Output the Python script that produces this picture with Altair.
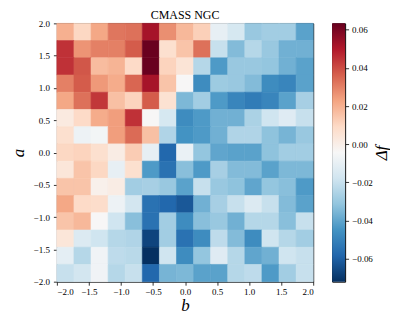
import altair as alt
import numpy as np
import pandas as pd

# Bin edges of the 15 x 15 grid
b_edges = np.linspace(-2.0, 2.0, 16)
a_edges = np.linspace(2.0, -2.0, 16)  # rows listed from top (a = 2) to bottom (a = -2)

# Delta f values, one list per row (top row first), columns from b = -2 to b = 2
delta_f_rows = [
    [0.020, 0.010, 0.022, 0.032, 0.033, 0.052, 0.027, 0.018, 0.012, -0.010, -0.016, -0.030, -0.028, -0.028, -0.041],
    [0.045, 0.026, 0.030, 0.030, 0.037, 0.063, 0.007, 0.015, 0.033, -0.020, -0.034, -0.024, -0.030, -0.037, -0.037],
    [0.045, 0.038, 0.017, 0.019, 0.009, 0.063, 0.011, 0.005, -0.024, -0.043, -0.030, -0.030, -0.031, -0.037, -0.041],
    [0.030, 0.037, 0.025, 0.021, 0.035, 0.052, 0.015, -0.004, -0.047, -0.029, -0.030, -0.034, -0.047, -0.049, -0.041],
    [0.022, 0.033, 0.044, 0.016, 0.011, 0.037, 0.006, -0.035, -0.028, -0.043, -0.049, -0.052, -0.049, -0.041, -0.027],
    [0.002, 0.009, 0.021, 0.024, 0.045, -0.004, -0.016, -0.047, -0.043, -0.037, -0.037, -0.026, -0.018, -0.013, -0.020],
    [0.007, -0.008, -0.006, 0.024, 0.034, 0.016, -0.025, -0.045, -0.043, -0.037, -0.025, -0.025, -0.032, -0.036, -0.030],
    [0.010, 0.011, 0.007, 0.001, 0.013, -0.010, -0.058, -0.009, -0.031, -0.040, -0.041, -0.041, -0.032, -0.028, -0.028],
    [0.004, 0.015, 0.010, -0.010, 0.007, -0.043, -0.055, -0.033, -0.043, -0.027, -0.034, -0.034, -0.041, -0.035, -0.035],
    [0.015, 0.015, -0.001, 0.001, -0.028, -0.027, -0.030, -0.041, -0.020, -0.030, -0.032, -0.040, -0.031, -0.033, -0.043],
    [0.022, 0.009, 0.008, -0.008, -0.017, -0.055, -0.058, -0.062, -0.037, -0.027, -0.020, -0.014, -0.020, -0.034, -0.041],
    [0.015, 0.018, -0.004, -0.018, -0.033, -0.055, -0.028, -0.047, -0.033, -0.030, -0.037, -0.024, -0.024, -0.033, -0.020],
    [0.004, -0.014, -0.018, -0.024, -0.025, -0.067, -0.028, -0.055, -0.047, -0.022, -0.034, -0.047, -0.018, -0.024, -0.028],
    [-0.011, -0.024, -0.007, -0.022, -0.023, -0.072, -0.018, -0.047, -0.031, -0.013, -0.024, -0.040, -0.037, -0.018, -0.020],
    [-0.020, -0.017, -0.007, -0.024, -0.020, -0.058, -0.036, -0.035, -0.041, -0.041, -0.024, -0.022, -0.043, -0.028, -0.020],
]

axis_ticks = [-2.0, -1.5, -1.0, -0.5, 0.0, 0.5, 1.0, 1.5, 2.0]
cbar_ticks = [-0.06, -0.04, -0.02, 0.0, 0.02, 0.04, 0.06]
vmin, vmax = -0.072, 0.0633

rdbu_r = ["#053061", "#2166ac", "#4393c3", "#92c5de", "#d1e5f0", "#f7f7f7",
          "#fddbc7", "#f4a582", "#d6604d", "#b2182b", "#67001f"]
stops = [vmin + i * (vmax - vmin) / 10 for i in range(11)]

records = []
for r, row in enumerate(delta_f_rows):
    for c, v in enumerate(row):
        records.append({
            "b0": b_edges[c], "b1": b_edges[c + 1],
            "a0": a_edges[r + 1], "a1": a_edges[r],
            "df": v,
        })
df = pd.DataFrame(records)

FONT = "Liberation Serif"
color_scale = alt.Scale(domain=stops, range=rdbu_r, interpolate="rgb")

heat = alt.Chart(df).mark_rect(strokeWidth=0.6).encode(
    x=alt.X("b0:Q", scale=alt.Scale(domain=[-2, 2], nice=False, zero=False),
            axis=alt.Axis(values=axis_ticks, format=".1f", title="b",
                          labelPadding=2, titlePadding=1)),
    x2="b1:Q",
    y=alt.Y("a0:Q", scale=alt.Scale(domain=[-2, 2], nice=False, zero=False),
            axis=alt.Axis(values=axis_ticks, format=".1f", title="a",
                          labelPadding=4, titlePadding=6)),
    y2="a1:Q",
    color=alt.Color("df:Q", scale=color_scale, legend=None),
    stroke=alt.Stroke("df:Q", scale=color_scale, legend=None),
).properties(width=257, height=259,
             title=alt.TitleParams("CMASS NGC", frame="group", offset=-3))

cb_df = pd.DataFrame({"lo": [vmin], "hi": [vmax]})
gradient = alt.Gradient(
    gradient="linear",
    stops=[alt.GradientStop(color=c, offset=i / 10) for i, c in enumerate(rdbu_r)],
    x1=0, x2=0, y1=1, y2=0,
)
cbar = alt.Chart(cb_df).mark_rect(color=gradient).encode(
    y=alt.Y("lo:Q", scale=alt.Scale(domain=[vmin, vmax], nice=False, zero=False),
            axis=alt.Axis(orient="right", values=cbar_ticks, format=".2f", title="Δf",
                          titleAngle=270, titleBaseline="top", titlePadding=1,
                          labelPadding=3)),
    y2="hi:Q",
    x=alt.value(0),
    x2=alt.value(13),
).properties(width=13, height=259,
             title=alt.TitleParams(" ", frame="group", offset=-3))

chart = alt.hconcat(heat, cbar, spacing=17).properties(
    padding={"left": 0, "top": 0, "right": 0, "bottom": 0}
).configure_view(
    stroke="black", strokeWidth=1
).configure_axis(
    domain=False,
    ticks=True, tickColor="black", tickSize=3.5, tickWidth=0.8,
    grid=False,
    labelFont=FONT, labelFontSize=9, labelColor="black",
    titleFont=FONT, titleFontSize=17, titleFontWeight="normal", titleFontStyle="italic",
    titleColor="black",
).configure_title(
    font=FONT, fontSize=12, fontWeight="normal", color="black", anchor="middle"
)

chart.save("out.html", embed_options={"renderer": "svg", "actions": False})
